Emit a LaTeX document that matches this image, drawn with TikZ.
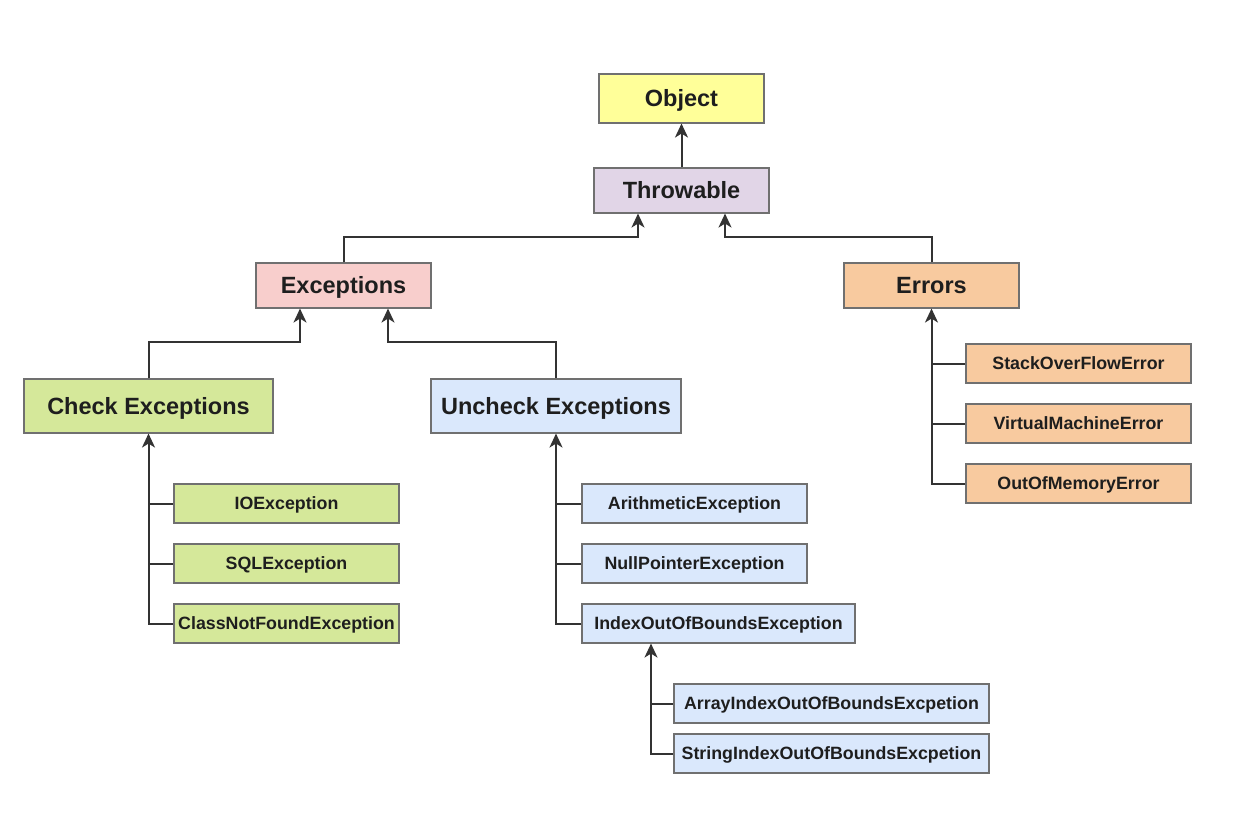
\documentclass[tikz,border=0pt]{standalone}
\usepackage{fontspec}
\setmainfont{Liberation Sans}
\usetikzlibrary{arrows.meta}
\definecolor{txt}{HTML}{1E1E1E}
\definecolor{edge}{HTML}{333333}
\definecolor{frame}{HTML}{707070}
\definecolor{cObj}{HTML}{FFFF99}
\definecolor{cThr}{HTML}{E1D5E7}
\definecolor{cExc}{HTML}{F8CECC}
\definecolor{cErr}{HTML}{F8CA9F}
\definecolor{cChk}{HTML}{D5E89A}
\definecolor{cUnc}{HTML}{DAE8FC}
\begin{document}
\begin{tikzpicture}[x=1pt,y=-1pt,
  box/.style={draw=frame, line width=1.1pt, rectangle, inner sep=1pt, text=txt, align=center,
              text depth=0pt},
  bigbox/.style={box, font=\fontsize{23.5}{26}\selectfont\bfseries, text height=16.8pt},
  smallbox/.style={box, font=\fontsize{17.8}{20}\selectfont\bfseries, text height=12.7pt,
                   minimum height=39},
  link/.style={draw=edge, line width=2pt},
  arr/.style={link, -{Stealth[length=14pt,width=13pt,inset=4pt]}}
]
\useasboundingbox[fill=white] (0,0) rectangle (1248,813);

% top of the hierarchy
\node[bigbox, fill=cObj, minimum width=165, minimum height=49] (obj) at (681.5,98.5) {Object};
\node[bigbox, fill=cThr, minimum width=175, minimum height=45] (thr) at (681.5,190.5) {Throwable};
\node[bigbox, fill=cExc, minimum width=175, minimum height=45] (exc) at (343.5,285.5) {Exceptions};
\node[bigbox, fill=cErr, minimum width=175, minimum height=45] (err) at (931.5,285.5) {Errors};
\node[bigbox, fill=cChk, minimum width=249, minimum height=54] (chk) at (148.5,406) {Check Exceptions};
\node[bigbox, fill=cUnc, minimum width=250, minimum height=54] (unc) at (556,406) {Uncheck Exceptions};

% checked exceptions
\node[smallbox, fill=cChk, minimum width=225] (io)  at (286.5,503.5) {IOException};
\node[smallbox, fill=cChk, minimum width=225] (sql) at (286.5,563.5) {SQLException};
\node[smallbox, fill=cChk, minimum width=225] (cnf) at (286.5,623.5) {ClassNotFoundException};

% unchecked exceptions
\node[smallbox, fill=cUnc, minimum width=225] (ari)  at (694.5,503.5) {ArithmeticException};
\node[smallbox, fill=cUnc, minimum width=225] (npe)  at (694.5,563.5) {NullPointerException};
\node[smallbox, fill=cUnc, minimum width=273] (ioob) at (718.5,623.5) {IndexOutOfBoundsException};
\node[smallbox, fill=cUnc, minimum width=315] (aio)  at (831.5,703.5) {ArrayIndexOutOfBoundsExcpetion};
\node[smallbox, fill=cUnc, minimum width=315] (sio)  at (831.5,753.5) {StringIndexOutOfBoundsExcpetion};

% errors
\node[smallbox, fill=cErr, minimum width=225] (soe) at (1078.5,363.5) {StackOverFlowError};
\node[smallbox, fill=cErr, minimum width=225] (vme) at (1078.5,423.5) {VirtualMachineError};
\node[smallbox, fill=cErr, minimum width=225] (oom) at (1078.5,483.5) {OutOfMemoryError};

% inheritance links
\draw[arr] (thr) -- (obj);
\draw[arr] (exc.north) -- ++(0,-25) -| ([xshift=-43.5pt]thr.south);
\draw[arr] (err.north) -- ++(0,-25) -| ([xshift=43.5pt]thr.south);
\draw[arr] (chk.north) -- ++(0,-36) -| ([xshift=-43.5pt]exc.south);
\draw[arr] (unc.north) -- ++(0,-36) -| ([xshift=44.5pt]exc.south);

\draw[link] (io.west) -- (io.west -| chk.south);
\draw[link] (sql.west) -- (sql.west -| chk.south);
\draw[arr] (cnf.west) -| (chk.south);

\draw[link] (ari.west) -- (ari.west -| unc.south);
\draw[link] (npe.west) -- (npe.west -| unc.south);
\draw[arr] (ioob.west) -| (unc.south);

\draw[link] (aio.west) -- ++(-23,0);
\draw[arr] (sio.west) -| ([xshift=-67.5pt]ioob.south);

\draw[link] (soe.west) -- (soe.west -| err.south);
\draw[link] (vme.west) -- (vme.west -| err.south);
\draw[arr] (oom.west) -| (err.south);
\end{tikzpicture}
\end{document}
